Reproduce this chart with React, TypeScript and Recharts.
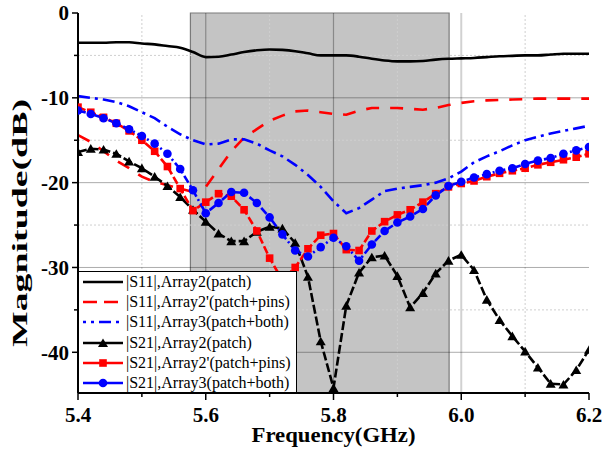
import { Line, LineChart, ReferenceArea, ReferenceLine, XAxis, YAxis } from 'recharts';

const frequencies = [
  5.4, 5.42, 5.44, 5.46, 5.48, 5.5, 5.52, 5.54, 5.56, 5.58, 5.6, 5.62, 5.64, 5.66,
  5.68, 5.7, 5.72, 5.74, 5.76, 5.78, 5.8, 5.82, 5.84, 5.86, 5.88, 5.9, 5.92, 5.94,
  5.96, 5.98, 6.0, 6.02, 6.04, 6.06, 6.08, 6.1, 6.12, 6.14, 6.16, 6.18, 6.2,
];

const s11Patch = [
  -3.5, -3.5, -3.5, -3.45, -3.45, -3.6, -3.7, -3.9, -4.1, -4.6, -5.2, -5.15, -4.9, -4.6,
  -4.4, -4.3, -4.35, -4.5, -4.75, -5.0, -5.0, -5.0, -5.15, -5.4, -5.6, -5.7, -5.7, -5.65,
  -5.5, -5.4, -5.35, -5.3, -5.2, -5.1, -5.05, -5.0, -5.0, -4.9, -4.8, -4.8, -4.8,
];

const s11Pins = [
  -14.4, -15.2, -16.3, -17.4, -18.3, -19.3, -19.9, -20.3, -20.7, -21.1, -20.5, -18.4, -16.3, -14.7,
  -13.7, -12.7, -12.1, -11.6, -11.5, -11.7, -11.9, -12.0, -11.5, -11.2, -11.2, -11.2, -11.3, -11.4,
  -11.2, -10.85, -10.6, -10.4, -10.3, -10.25, -10.2, -10.15, -10.1, -10.1, -10.1, -10.1, -10.1,
];

const s11Both = [
  -9.8, -10.0, -10.2, -10.5, -11.0, -11.7, -12.4, -13.4, -14.3, -15.0, -15.5, -15.4, -14.9, -14.9,
  -15.4, -16.2, -16.9, -17.9, -19.1, -20.5, -22.2, -23.6, -23.0, -22.0, -21.0, -20.7, -20.5, -20.3,
  -20.0, -19.5, -18.7, -17.6, -16.9, -16.3, -15.6, -15.0, -14.6, -14.2, -13.9, -13.6, -13.3,
];

const s21Patch = [
  -16.4, -16.0, -16.1, -16.6, -17.5, -18.3, -19.3, -20.4, -21.7, -23.2, -24.6, -26.0, -26.9, -26.9,
  -25.8, -25.2, -25.4, -27.1, -31.1, -38.7, -44.2, -34.5, -30.6, -28.8, -28.6, -31.0, -34.7, -33.0,
  -30.7, -29.2, -28.5, -30.3, -33.8, -36.2, -38.1, -39.9, -41.8, -43.7, -43.8, -42.1, -39.7,
];

const s21Pins = [
  -11.1, -11.7, -12.3, -13.0, -13.9, -15.0, -16.3, -18.1, -20.7, -23.3, -22.3, -21.3, -21.6, -23.2,
  -25.7, -28.9, -31.5, -30.0, -27.8, -26.2, -26.0, -27.9, -28.0, -25.7, -24.6, -23.8, -23.2, -22.3,
  -21.3, -20.5, -20.1, -19.8, -19.3, -18.9, -18.6, -18.3, -17.9, -17.6, -17.3, -17.0, -16.6,
];

const s21Both = [
  -11.5, -11.9, -12.4, -13.0, -13.7, -14.5, -15.4, -16.6, -18.4, -20.9, -23.6, -22.4, -21.1, -21.2,
  -22.4, -24.1, -26.1, -28.0, -28.7, -27.6, -26.5, -27.5, -29.2, -27.3, -25.7, -24.7, -24.0, -23.1,
  -21.5, -20.4, -19.9, -19.4, -19.0, -18.6, -18.3, -17.8, -17.4, -17.1, -16.6, -16.2, -15.8,
];

const xMajorTicks = [5.4, 5.6, 5.8, 6.0, 6.2];
const xMinorTicks = [5.5, 5.7, 5.9, 6.1];
const yMajorTicks = [0, -10, -20, -30, -40];
const yMinorTicks = [-5, -15, -25, -35];
const xGridMajor = [5.6, 5.8, 6.0];
const yGridMajor = [-10, -20, -30, -40];
const bandStart = 5.576;
const bandEnd = 5.981;

const serif = "'Liberation Serif', 'Times New Roman', serif";

const chartData = frequencies.map((freq, i) => ({
  freq,
  s11Patch: s11Patch[i],
  s11Pins: s11Pins[i],
  s11Both: s11Both[i],
  s21Patch: s21Patch[i],
  s21Pins: s21Pins[i],
  s21Both: s21Both[i],
}));

type Marker = 'triangle' | 'square' | 'circle' | null;

type SeriesStyle = {
  key: string;
  label: string;
  color: string;
  dash?: string;
  legendDash?: string;
  marker: Marker;
  curve: 'monotone' | 'linear';
};

const seriesStyles: SeriesStyle[] = [
  { key: 's11Patch', label: '|S11|,Array2(patch)', color: '#000000', marker: null, curve: 'monotone' },
  { key: 's11Pins', label: "|S11|,Array2'(patch+pins)", color: '#ff0000', dash: '13 11', legendDash: '14 7', marker: null, curve: 'linear' },
  { key: 's11Both', label: '|S11|,Array3(patch+both)', color: '#0000ff', dash: '12 5 3 5', legendDash: '3 5 3 5 12 5', marker: null, curve: 'linear' },
  { key: 's21Patch', label: '|S21|,Array2(patch)', color: '#000000', dash: '9 3', marker: 'triangle', curve: 'linear' },
  { key: 's21Pins', label: "|S21|,Array2'(patch+pins)", color: '#ff0000', dash: '8 3', marker: 'square', curve: 'linear' },
  { key: 's21Both', label: '|S21|,Array3(patch+both)', color: '#0000ff', dash: '8 3 2 3', marker: 'circle', curve: 'linear' },
];

function markerShape(marker: Marker, cx: number, cy: number, color: string, key?: string) {
  if (marker === 'triangle') {
    return (
      <polygon
        key={key}
        points={`${cx},${cy - 4.6} ${cx - 5},${cy + 4} ${cx + 5},${cy + 4}`}
        fill={color}
      />
    );
  }
  if (marker === 'square') {
    return <rect key={key} x={cx - 3.8} y={cy - 3.8} width={7.6} height={7.6} fill={color} />;
  }
  if (marker === 'circle') {
    return <circle key={key} cx={cx} cy={cy} r={4.3} fill={color} />;
  }
  return null;
}

function makeDot(marker: Marker, color: string) {
  return (props: { cx?: number; cy?: number; index?: number }) => {
    const { cx, cy, index } = props;
    if (cx == null || cy == null) {
      return <g key={`e-${index}`} />;
    }
    return markerShape(marker, cx, cy, color, `${marker}-${index}`) as JSX.Element;
  };
}

type TickProps = { x?: number; y?: number; payload?: { value: number } };

function BottomTick({ x = 0, y = 0, payload }: TickProps) {
  const value = payload?.value ?? 0;
  const major = xMajorTicks.some((t) => Math.abs(t - value) < 1e-6);
  return (
    <g>
      <line x1={x} x2={x} y1={y} y2={y + (major ? 7 : 4)} stroke="#000" strokeWidth={1.5} />
      {major && (
        <text x={x} y={y + 29} textAnchor="middle" fontFamily={serif} fontWeight="bold" fontSize={21} fill="#000">
          {value.toFixed(1)}
        </text>
      )}
    </g>
  );
}

function LeftTick({ x = 0, y = 0, payload }: TickProps) {
  const value = payload?.value ?? 0;
  const major = yMajorTicks.includes(value);
  return (
    <g>
      <line x1={x - (major ? 6 : 4)} x2={x} y1={y} y2={y} stroke="#000" strokeWidth={1.5} />
      {major && (
        <text x={x - 9} y={y} dy="0.35em" textAnchor="end" fontFamily={serif} fontWeight="bold" fontSize={21} fill="#000">
          {value}
        </text>
      )}
    </g>
  );
}

type ViewBox = { x?: number; y?: number; width?: number; height?: number };

function XTitle({ viewBox }: { viewBox?: ViewBox }) {
  const { x = 0, y = 0, width = 0 } = viewBox ?? {};
  return (
    <text
      x={x + width / 2}
      y={y + 49}
      textAnchor="middle"
      fontFamily={serif}
      fontWeight="bold"
      fontSize={20}
      textLength={164}
      lengthAdjust="spacingAndGlyphs"
      fill="#000"
    >
      Frequency(GHz)
    </text>
  );
}

function YTitle({ viewBox }: { viewBox?: ViewBox }) {
  const { y = 0, height = 0 } = viewBox ?? {};
  const cx = 26.5;
  const cy = y + height / 2 + 20;
  return (
    <text
      x={cx}
      y={cy}
      transform={`rotate(-90 ${cx} ${cy})`}
      textAnchor="middle"
      fontFamily={serif}
      fontWeight="bold"
      fontSize={22}
      textLength={248}
      lengthAdjust="spacingAndGlyphs"
      fill="#000"
    >
      Magnitude(dB)
    </text>
  );
}

function LegendBox() {
  return (
    <div
      style={{
        position: 'absolute',
        left: 79,
        top: 271,
        width: 218,
        height: 121,
        background: '#fff',
        borderTop: '1px solid #000',
        borderRight: '1px solid #000',
        boxSizing: 'border-box',
        fontFamily: serif,
        fontSize: 16,
        color: '#000',
      }}
    >
      {seriesStyles.map((s) => (
        <div key={s.key} style={{ display: 'flex', alignItems: 'center', height: 20.2 }}>
          <svg width={40} height={12} style={{ marginLeft: 4, marginRight: 3, flexShrink: 0 }}>
            <line
              x1={0}
              x2={40}
              y1={6}
              y2={6}
              stroke={s.color}
              strokeWidth={2.6}
              strokeDasharray={s.marker ? undefined : s.legendDash}
            />
            {markerShape(s.marker, 20, 6, s.color)}
          </svg>
          <span style={{ whiteSpace: 'nowrap', lineHeight: '20px' }}>{s.label}</span>
        </div>
      ))}
    </div>
  );
}

export default function App() {
  return (
    <div style={{ position: 'absolute', left: 0, top: 0, width: 604, height: 449, background: '#fff' }}>
      <LineChart width={604} height={449} data={chartData} margin={{ top: 13, right: 15, bottom: 0, left: 0 }}>
        {xMinorTicks.map((v) => (
          <ReferenceLine key={`xm-${v}`} x={v} stroke="#cfcfcf" strokeDasharray="2 2" strokeWidth={1} />
        ))}
        {yMinorTicks.map((v) => (
          <ReferenceLine key={`ym-${v}`} y={v} stroke="#cfcfcf" strokeDasharray="2 2" strokeWidth={1} />
        ))}
        <ReferenceArea x1={bandStart} x2={bandEnd} fill="#c4c4c4" fillOpacity={1} stroke="#7a7a7a" strokeWidth={1.2} />
        {xGridMajor.map((v) => (
          <ReferenceLine
            key={`xg-${v}`}
            x={v}
            stroke={v > bandEnd ? 'rgba(0,0,0,0.18)' : 'rgba(0,0,0,0.3)'}
            strokeWidth={v > bandEnd ? 2 : 1.2}
          />
        ))}
        {yGridMajor.map((v) => (
          <ReferenceLine key={`yg-${v}`} y={v} stroke="rgba(0,0,0,0.33)" strokeWidth={1} />
        ))}
        <XAxis
          dataKey="freq"
          type="number"
          domain={[5.4, 6.2]}
          ticks={[...xMajorTicks, ...xMinorTicks]}
          interval={0}
          allowDataOverflow
          height={56}
          tickSize={0}
          tickMargin={0}
          tickLine={false}
          axisLine={{ stroke: '#000', strokeWidth: 2 }}
          tick={<BottomTick />}
          label={<XTitle />}
        />
        <YAxis
          type="number"
          domain={[-44.8, 0]}
          ticks={[...yMajorTicks, ...yMinorTicks]}
          interval={0}
          allowDataOverflow
          width={78}
          tickSize={0}
          tickMargin={0}
          tickLine={false}
          axisLine={{ stroke: '#000', strokeWidth: 2 }}
          tick={<LeftTick />}
          label={<YTitle />}
        />
        {seriesStyles.map((s) => (
          <Line
            key={s.key}
            type={s.curve}
            dataKey={s.key}
            stroke={s.color}
            strokeWidth={2.6}
            strokeDasharray={s.dash}
            dot={s.marker ? makeDot(s.marker, s.color) : false}
            activeDot={false}
            isAnimationActive={false}
          />
        ))}
      </LineChart>
      <LegendBox />
    </div>
  );
}
